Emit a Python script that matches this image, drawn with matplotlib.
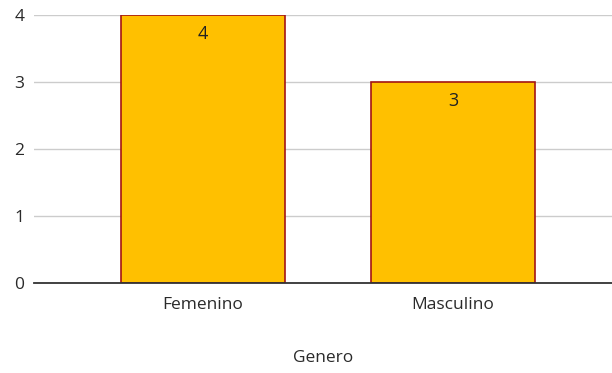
import matplotlib
matplotlib.use("Agg")
import matplotlib.pyplot as plt

categories = ["Femenino", "Masculino"]
values = [4, 3]
yticks = [0, 1, 2, 3, 4]
xlabel = "Genero"

plt.rcParams['font.family'] = ['Open Sans', 'DejaVu Sans']

fig = plt.figure(figsize=(6.12, 3.73), dpi=100)
ax = fig.add_axes([34/612, 1-283/373, 1-34/612, (283-15)/373])

x = list(range(len(categories)))
bars = ax.bar(x, values, width=0.656, color="#FFC000", edgecolor="#A31515", linewidth=1.2, zorder=3)
for xi, v in zip(x, values):
    ax.annotate(str(v), (xi, v), xytext=(0, -14), textcoords="offset points",
                ha="center", va="center", fontsize=13, color="#222222", zorder=4)

ax.set_xlim(-0.676, 1.636)
ax.set_ylim(0, 4)
ax.set_yticks(yticks)
ax.set_xticks(x)
ax.set_xticklabels(categories)
ax.grid(axis="y", color="#CCCCCC", linewidth=1, zorder=0)
ax.tick_params(axis="both", length=0, labelsize=12.5, colors="#2a2a2a")
ax.tick_params(axis="x", pad=10)
ax.tick_params(axis="y", pad=7)
for s in ["top", "right", "left"]:
    ax.spines[s].set_visible(False)
ax.spines["bottom"].set_color("#333333")
ax.spines["bottom"].set_linewidth(1.3)
ax.spines["bottom"].set_zorder(5)
ax.set_xlabel(xlabel, fontsize=12.5, color="#2a2a2a", labelpad=27)

fig.savefig("out.png", dpi=100)
